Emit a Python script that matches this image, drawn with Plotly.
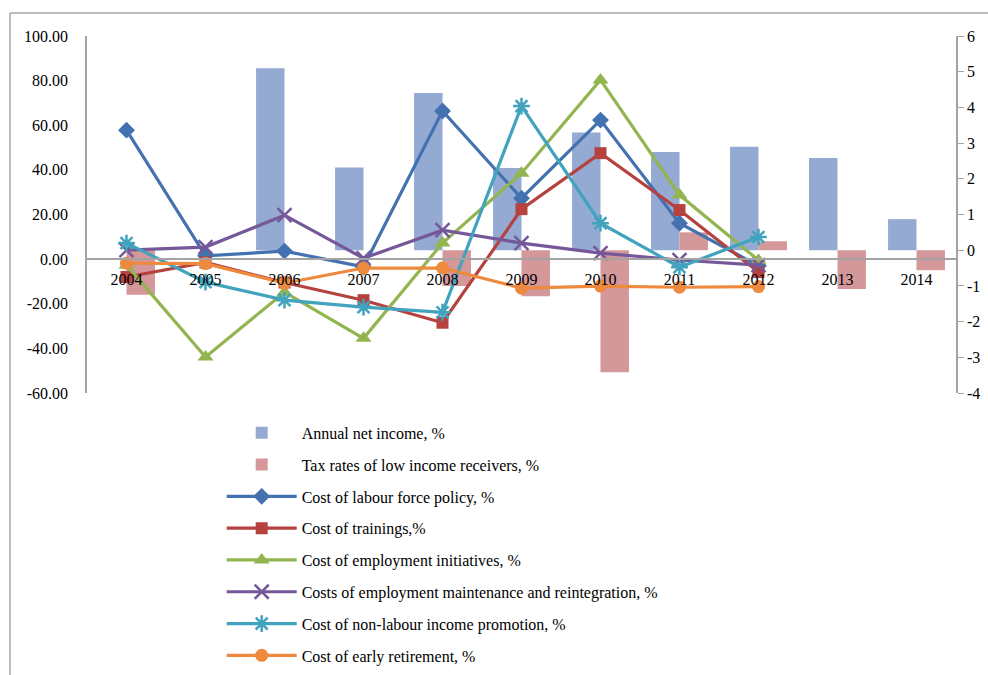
import plotly.graph_objects as go

# Years on the category axis
years = ["2004", "2005", "2006", "2007", "2008", "2009", "2010", "2011", "2012", "2013", "2014"]

# Bar series (right-hand axis)
annual_net_income = [None, None, 5.10, 2.32, 4.40, 2.30, 3.30, 2.75, 2.90, 2.58, 0.87]
tax_rates_low_income = [-1.25, None, None, None, -1.00, -1.29, -3.42, 0.50, 0.25, -1.09, -0.56]

# Line series (left-hand axis)
labour_force_policy = [57.8, 1.5, 3.6, -3.5, 66.4, 27.3, 62.3, 16.1, -3.0]
trainings = [-8.0, -1.5, -10.5, -18.4, -28.5, 22.4, 47.5, 22.0, -5.8]
employment_initiatives = [-2.7, -43.9, -14.8, -35.5, 7.2, 38.5, 80.3, 28.7, -0.5]
employment_maintenance = [4.0, 5.4, 19.7, 0.4, 13.0, 7.2, 2.7, -0.4, -2.7]
non_labour_income = [7.2, -10.3, -18.4, -21.5, -23.8, 68.6, 16.1, -3.6, 9.9]
early_retirement = [-1.8, -2.0, -10.8, -4.0, -4.0, -13.0, -12.1, -12.6, -12.3]

# Axis ticks
left_ticks = [-60, -40, -20, 0, 20, 40, 60, 80, 100]
right_ticks = [-4, -3, -2, -1, 0, 1, 2, 3, 4, 5, 6]

FONT = "Liberation Serif"
AXIS_GREY = "#A3A3A3"

fig = go.Figure()

fig.add_trace(go.Bar(
    x=years, y=annual_net_income, name="Annual net income, %",
    marker=dict(color="#94AAD2", line=dict(width=0)),
    yaxis="y", legendgroup="g1",
))
fig.add_trace(go.Bar(
    x=years, y=tax_rates_low_income, name="Tax rates of low income receivers, %",
    marker=dict(color="#D4979A", line=dict(width=0)),
    yaxis="y", legendgroup="g2",
))

line_series = [
    ("Cost of labour force policy, %", labour_force_policy, "#4472B0",
     dict(symbol="diamond", size=13)),
    ("Cost of trainings,%", trainings, "#B5423F",
     dict(symbol="square", size=12)),
    ("Cost of employment initiatives, %", employment_initiatives, "#92B550",
     dict(symbol="triangle-up", size=14)),
    ("Costs of employment maintenance and reintegration, %", employment_maintenance, "#75589A",
     dict(symbol="x-thin-open", size=14, line=dict(width=2.5, color="#75589A"))),
    ("Cost of non-labour income promotion, %", non_labour_income, "#41A3BE",
     dict(symbol="asterisk-open", size=14, line=dict(width=2.5, color="#41A3BE"))),
    ("Cost of early retirement, %", early_retirement, "#EE8A3E",
     dict(symbol="circle", size=13)),
]

for i, (name, vals, color, marker) in enumerate(line_series):
    marker = dict(marker)
    marker["color"] = color
    fig.add_trace(go.Scatter(
        x=years[:len(vals)], y=vals, name=name, mode="lines+markers",
        line=dict(color=color, width=3.2), marker=marker,
        yaxis="y2", legendgroup=f"g{i + 3}",
    ))

fig.update_layout(
    width=988, height=675,
    margin=dict(l=87, r=32, t=36, b=282, autoexpand=False),
    paper_bgcolor="white", plot_bgcolor="white",
    font=dict(family=FONT, size=16, color="#000000"),
    barmode="group", bargap=0.28, bargroupgap=0,
    showlegend=True,
    legend=dict(
        x=0.155, y=-0.064, xanchor="left", yanchor="top",
        orientation="v", traceorder="grouped", tracegroupgap=8,
        font=dict(family=FONT, size=16, color="#000000"),
        bgcolor="rgba(0,0,0,0)", itemwidth=70,
    ),
    xaxis=dict(
        type="category", categoryorder="array", categoryarray=years,
        range=[-0.5, 10.5],
        anchor="free", position=0.375,
        showline=True, linecolor=AXIS_GREY, linewidth=1.5,
        ticks="", showgrid=False, zeroline=False, ticklabelstandoff=6,
        tickfont=dict(family=FONT, size=16, color="#000000"),
    ),
    yaxis=dict(
        side="right", range=[-4, 6], anchor="x",
        tickvals=right_ticks, ticktext=[str(v) for v in right_ticks],
        showline=True, linecolor=AXIS_GREY, linewidth=1.5,
        ticks="outside", ticklen=6, tickcolor=AXIS_GREY, tickwidth=1,
        showgrid=False, zeroline=False,
        tickfont=dict(family=FONT, size=16, color="#000000"),
    ),
    yaxis2=dict(
        side="left", overlaying="y", range=[-60, 100], anchor="x",
        tickvals=left_ticks, ticktext=[f"{v:.2f}" for v in left_ticks],
        showline=True, linecolor=AXIS_GREY, linewidth=1.5,
        ticks="", ticklabelstandoff=14,
        showgrid=False, zeroline=False,
        tickfont=dict(family=FONT, size=16, color="#000000"),
    ),
    shapes=[
        dict(type="line", xref="paper", yref="paper",
             x0=-0.0886, x1=1.04, y0=1.0644, y1=1.0644,
             line=dict(color="#A6A6A6", width=1.5)),
        dict(type="line", xref="paper", yref="paper",
             x0=-0.0886, x1=-0.0886, y0=1.0644, y1=-0.8,
             line=dict(color="#A6A6A6", width=1.5)),
    ],
)

fig.write_html("out.html")
